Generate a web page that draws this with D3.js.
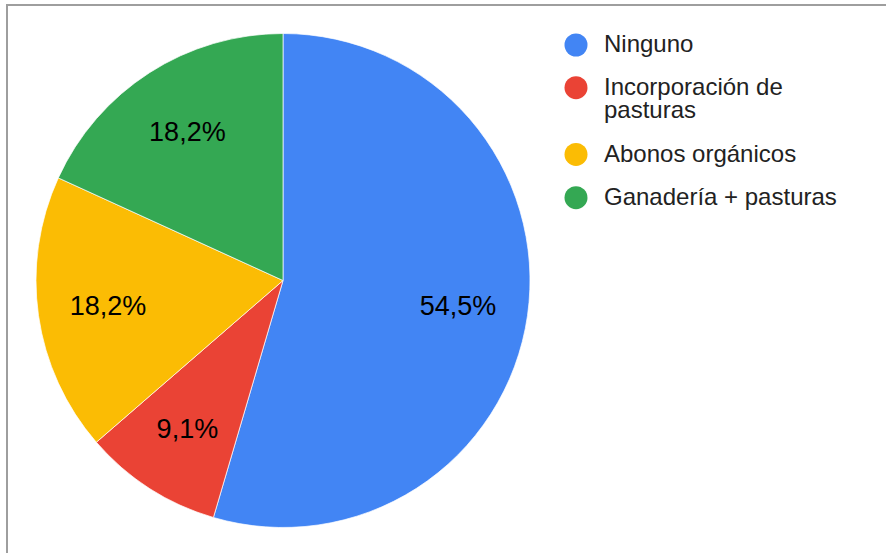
<!DOCTYPE html>
<html>
<head>
<meta charset="utf-8">
<script src="https://cdn.jsdelivr.net/npm/d3@7"></script>
<style>
  html, body { margin: 0; padding: 0; background: #fff; }
  svg { display: block; font-family: Arial, "Liberation Sans", sans-serif; }
</style>
</head>
<body>
<svg id="chart" width="886" height="553"></svg>
<script>
// Responses per category (counts) and their display labels
const categories = ["Ninguno", "Incorporación de pasturas", "Abonos orgánicos", "Ganadería + pasturas"];
const legendLines = [["Ninguno"], ["Incorporación de", "pasturas"], ["Abonos orgánicos"], ["Ganadería + pasturas"]];
const values = [6, 1, 2, 2];
const percentLabels = ["54,5%", "9,1%", "18,2%", "18,2%"];
const colors = ["#4285F4", "#EA4335", "#FBBC04", "#34A853"];

const svg = d3.select("#chart");

// Frame along the top and left edges
svg.append("line").attr("x1", 6).attr("x2", 886).attr("y1", 5).attr("y2", 5)
  .attr("stroke", "#9e9e9e").attr("stroke-width", 2);
svg.append("line").attr("x1", 7).attr("x2", 7).attr("y1", 4).attr("y2", 553)
  .attr("stroke", "#9e9e9e").attr("stroke-width", 2);

const cx = 283, cy = 280.5, radius = 247;

const pie = d3.pie().sort(null).value(d => d).startAngle(0).endAngle(2 * Math.PI);
const arcs = pie(values);
const arc = d3.arc().innerRadius(0).outerRadius(radius);
const labelArc = d3.arc().innerRadius(radius * 0.716).outerRadius(radius * 0.716);

const g = svg.append("g").attr("transform", `translate(${cx},${cy})`);

g.selectAll("path.slice")
  .data(arcs)
  .join("path")
  .attr("class", "slice")
  .attr("d", arc)
  .attr("fill", (d, i) => colors[i])
  .attr("stroke", "#fff")
  .attr("stroke-width", 0.7);

g.selectAll("text.pct")
  .data(arcs)
  .join("text")
  .attr("class", "pct")
  .attr("transform", d => `translate(${labelArc.centroid(d)})`)
  .attr("text-anchor", "middle")
  .attr("dy", "0.33em")
  .attr("font-size", 27)
  .attr("fill", "#000")
  .text((d, i) => percentLabels[i]);

// Legend
const legendX = 576, textX = 604;
const rowBaselines = [52.3, 95, 161.7, 205];
const lineHeight = 23.3;

const legend = svg.append("g").attr("class", "legend");
categories.forEach((c, i) => {
  const base = rowBaselines[i];
  legend.append("circle")
    .attr("cx", legendX).attr("cy", base - 7.3)
    .attr("r", 11.5)
    .attr("fill", colors[i]);
  const t = legend.append("text")
    .attr("x", textX).attr("y", base)
    .attr("font-size", 24)
    .attr("fill", "#222");
  legendLines[i].forEach((ln, j) => {
    t.append("tspan").attr("x", textX).attr("y", base + j * lineHeight).text(ln);
  });
});
</script>
</body>
</html>
